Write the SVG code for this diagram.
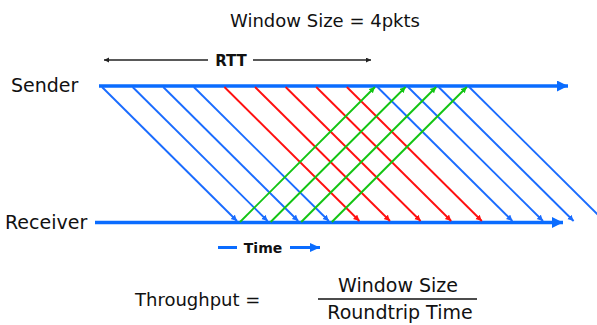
<svg xmlns="http://www.w3.org/2000/svg" width="597" height="325" viewBox="0 0 597 325">
<style>
text{font-family:"DejaVu Sans","Liberation Sans",sans-serif;fill:#111}
.axis{stroke:#0a6cff;stroke-width:3.5;fill:none}
.b{stroke:#1a6cff;stroke-width:1.9;marker-end:url(#ab)}
.r{stroke:#ff1010;stroke-width:1.9;marker-end:url(#ar)}
.g{stroke:#12c412;stroke-width:1.9;marker-end:url(#ag)}
.lbl{font-size:19px}
</style>
<defs>
<marker id="big" markerUnits="userSpaceOnUse" markerWidth="13" markerHeight="12" refX="11" refY="5.5" orient="auto"><path d="M0,0 L11,5.5 L0,11 Z" fill="#0a6cff"/></marker>
<marker id="ab" markerUnits="userSpaceOnUse" markerWidth="8" markerHeight="8" refX="6" refY="3" orient="auto"><path d="M0,0 L6,3 L0,6 Z" fill="#1a6cff"/></marker>
<marker id="ar" markerUnits="userSpaceOnUse" markerWidth="8" markerHeight="8" refX="6" refY="3" orient="auto"><path d="M0,0 L6,3 L0,6 Z" fill="#ff1010"/></marker>
<marker id="ag" markerUnits="userSpaceOnUse" markerWidth="8" markerHeight="8" refX="6" refY="3" orient="auto"><path d="M0,0 L6,3 L0,6 Z" fill="#12c412"/></marker>
<marker id="blk" markerUnits="userSpaceOnUse" markerWidth="8" markerHeight="8" refX="5" refY="2.5" orient="auto"><path d="M0,0 L5,2.5 L0,5 Z" fill="#222"/></marker>
<marker id="tm" markerUnits="userSpaceOnUse" markerWidth="12" markerHeight="12" refX="10" refY="4.5" orient="auto"><path d="M0,0 L10,4.5 L0,9 Z" fill="#0a6cff"/></marker>
</defs>
<g id="title"><text x="325" y="27" font-size="18" text-anchor="middle">Window Size = 4pkts</text></g>
<g id="rtt">
<line x1="208" y1="60" x2="104" y2="60" stroke="#222" stroke-width="1.4" marker-end="url(#blk)"/>
<line x1="253" y1="60" x2="371" y2="60" stroke="#222" stroke-width="1.4" marker-end="url(#blk)"/>
<text x="231" y="66" font-size="15" font-weight="bold" text-anchor="middle">RTT</text>
</g>
<g id="sender">
<text class="lbl" x="11" y="92" font-size="20">Sender</text>
<line class="axis" x1="99" y1="86" x2="568" y2="86" marker-end="url(#big)"/>
</g>
<g id="receiver">
<text class="lbl" x="5" y="229">Receiver</text>
<line class="axis" x1="95" y1="222.5" x2="563" y2="222.5" marker-end="url(#big)"/>
</g>
<g id="connectors">
<line class="b" x1="102" y1="87" x2="237" y2="221"/>
<line class="b" x1="132.6" y1="87" x2="267.6" y2="221"/>
<line class="b" x1="163.2" y1="87" x2="298.2" y2="221"/>
<line class="b" x1="193.8" y1="87" x2="328.8" y2="221"/>
<line class="r" x1="224.4" y1="87" x2="359.4" y2="221"/>
<line class="r" x1="255" y1="87" x2="390" y2="221"/>
<line class="r" x1="285.6" y1="87" x2="420.6" y2="221"/>
<line class="r" x1="316.2" y1="87" x2="451.2" y2="221"/>
<line class="r" x1="346.8" y1="87" x2="481.8" y2="221"/>
<line class="b" x1="377.4" y1="87" x2="512.4" y2="221"/>
<line class="b" x1="408" y1="87" x2="543" y2="221"/>
<line class="b" x1="438.6" y1="87" x2="573.6" y2="221"/>
<line class="b" x1="469.2" y1="87" x2="604.2" y2="221"/>
<line class="g" x1="240" y1="222" x2="375" y2="87"/>
<line class="g" x1="270.6" y1="222" x2="405.6" y2="87"/>
<line class="g" x1="301.2" y1="222" x2="436.2" y2="87"/>
<line class="g" x1="331.8" y1="222" x2="466.8" y2="87"/>
</g>
<g id="time">
<line x1="218" y1="247.5" x2="237" y2="247.5" stroke="#0a6cff" stroke-width="3"/>
<line x1="290" y1="247.5" x2="320" y2="247.5" stroke="#0a6cff" stroke-width="3" marker-end="url(#tm)"/>
<text x="263" y="253" font-size="14" font-weight="bold" text-anchor="middle">Time</text>
</g>
<g id="formula">
<text x="135" y="306" font-size="18">Throughput =</text>
<text x="398" y="292" font-size="19" text-anchor="middle">Window Size</text>
<line x1="318" y1="299" x2="477" y2="299" stroke="#111" stroke-width="1.5"/>
<text x="400" y="319" font-size="19" text-anchor="middle">Roundtrip Time</text>
</g>
</svg>
